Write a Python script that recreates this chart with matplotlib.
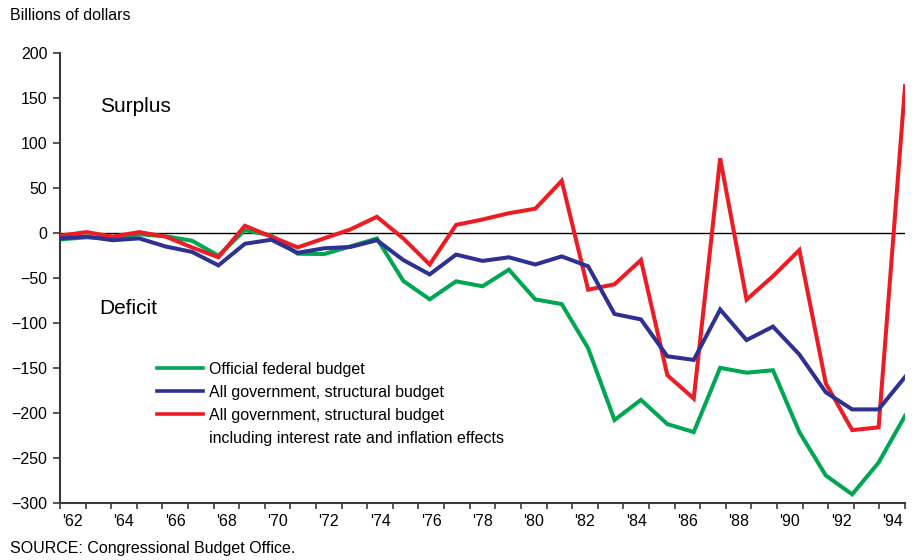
import numpy as np
import matplotlib
matplotlib.use("Agg")
import matplotlib.pyplot as plt
from matplotlib.lines import Line2D

plt.rcParams['font.family'] = ['Liberation Sans', 'DejaVu Sans']

# fiscal years and deficits/surpluses in billions of dollars
years = list(range(1962, 1995))
official = [-7.1, -4.8, -5.9, -1.4, -3.7, -8.6, -25.2, 3.2, -2.8, -23.0, -23.4,
            -14.9, -6.1, -53.2, -73.7, -53.7, -59.2, -40.7, -73.8, -79.0, -128.0,
            -207.8, -185.4, -212.3, -221.2, -149.8, -155.2, -152.5, -221.2,
            -269.4, -290.4, -255.1, -203.2]
structural = [-6, -4, -8, -6, -15, -21, -36, -12, -7.5, -22, -17, -15.5, -8,
              -30, -46, -24, -31, -27, -35, -26, -37, -90, -96, -137, -141,
              -85, -119, -104, -135, -177, -196, -196, -160]
adjusted = [-3, 1, -4, 1, -4, -16, -27, 8, -4, -16, -6, 4, 18, -6, -35, 9, 15,
            22, 27, 58, -63, -57, -30, -158, -184, 83, -74, -48, -19, -167,
            -219, -216, 163]
series_labels = ["Official federal budget",
                 "All government, structural budget",
                 "All government, structural budget",
                 "including interest rate and inflation effects"]
yticks = [200, 150, 100, 50, 0, -50, -100, -150, -200, -250, -300]
year_labels = ["'62", "'64", "'66", "'68", "'70", "'72", "'74", "'76", "'78",
               "'80", "'82", "'84", "'86", "'88", "'90", "'92", "'94"]

green = '#00a651'
blue = '#2e3192'
red = '#ed1c24'
axis_col = '#3a3a3a'
fs = 11.5

fig = plt.figure(figsize=(9.15, 5.6), dpi=100)
ax = fig.add_axes([60 / 915, 57 / 560, 845 / 915, 450 / 560])

ax.axhline(0, color='black', lw=1.0, zorder=1)
ax.plot(years, official, color=green, lw=2.9, solid_joinstyle='miter', zorder=2)
ax.plot(years, adjusted, color=red, lw=2.9, solid_joinstyle='miter', zorder=3)
ax.plot(years, structural, color=blue, lw=2.9, solid_joinstyle='miter', zorder=4)

ax.set_xlim(years[0], years[-1])
ax.set_ylim(-300, 200)

# x axis: tick marks split the span into one slot per year, labels sit in slots
nslots = len(years)
step = (years[-1] - years[0]) / nslots
bounds = [years[0] + k * step for k in range(nslots + 1)]
centers = [years[0] + (k + 0.5) * step for k in range(0, nslots, 2)]
ax.set_xticks(bounds)
ax.set_xticklabels([])
ax.set_xticks(centers, minor=True)
ax.set_xticklabels(year_labels, minor=True)
ax.tick_params(axis='x', which='major', direction='out', length=4, width=1.2,
               color=axis_col)
ax.tick_params(axis='x', which='minor', length=0, pad=8, labelsize=fs)

ax.set_yticks(yticks)
ax.set_yticklabels([str(v).replace('-', '\u2212') for v in yticks])
ax.tick_params(axis='y', direction='out', length=5, width=1.2, color=axis_col,
               pad=4, labelsize=fs)

for s in ['top', 'right']:
    ax.spines[s].set_visible(False)
for s in ['left', 'bottom']:
    ax.spines[s].set_color(axis_col)
    ax.spines[s].set_linewidth(1.5)

ax.text(1963.5, 134, "Surplus", fontsize=15, va='baseline', ha='left')
ax.text(1963.5, -90, "Deficit", fontsize=15, va='baseline', ha='left')

handles = [Line2D([], [], color=green, lw=2.6),
           Line2D([], [], color=blue, lw=2.6),
           Line2D([], [], color=red, lw=2.6),
           Line2D([], [], color='none', lw=0)]
ax.legend(handles, series_labels, loc='upper left',
          bbox_to_anchor=(157 / 915, 1 - 362 / 560), bbox_transform=fig.transFigure,
          frameon=False, fontsize=fs, handlelength=2.85, handletextpad=0.4,
          labelspacing=0.5, borderpad=0, borderaxespad=0)

fig.text(10 / 915, 1 - 15 / 560, "Billions of dollars", fontsize=fs,
         va='center', ha='left')
fig.text(10 / 915, 1 - 549 / 560, "SOURCE: Congressional Budget Office.",
         fontsize=fs, va='center', ha='left')

fig.savefig("out.png", dpi=100)
